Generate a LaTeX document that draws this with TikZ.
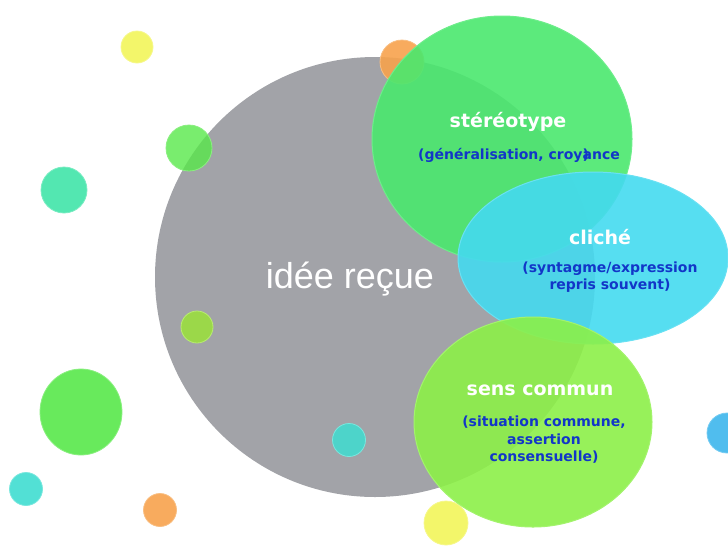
\documentclass[tikz,border=0pt]{standalone}
\usepackage{fontspec}
\setmainfont{DejaVu Sans}
\newfontfamily\thinfont{Liberation Sans}
\begin{document}
\begin{tikzpicture}[x=1pt,y=-1pt,
  ball/.style={fill=#1, draw=#1!70!white, line width=0.8pt, fill opacity=0.9},
  bigblob/.style={fill=#1, fill opacity=0.9, draw=#1!80!white, line width=1pt},
  title/.style={text=white, font=\bfseries\fontsize{19}{21}\selectfont},
  sub/.style={text=textblue, font=\bfseries\fontsize{14}{17.5}\selectfont, align=center}]
\useasboundingbox (0,0) rectangle (728,550);
\definecolor{grayc}{HTML}{A2A3A8}
\definecolor{stgreen}{HTML}{4AE86E}
\definecolor{clcyan}{HTML}{44DAF0}
\definecolor{sclime}{HTML}{8CF048}
\definecolor{byellow}{HTML}{F2F55A}
\definecolor{borange}{HTML}{F7A24C}
\definecolor{bgreen}{HTML}{58E84A}
\definecolor{bteal}{HTML}{40E4A8}
\definecolor{bteal2}{HTML}{3FDDD0}
\definecolor{blime}{HTML}{9AE632}
\definecolor{bblue}{HTML}{3DB6EC}
\definecolor{textblue}{HTML}{1236C8}
% background balls
\fill[ball=byellow] (137,47) circle (16);
\fill[ball=bteal] (64,190) circle (23);
\fill[ball=bgreen] (81,412) ellipse (41 and 43);
\fill[ball=bteal2] (26,489) circle (16.5);
\fill[ball=borange] (160,510) circle (16.5);
\fill[ball=byellow] (446,523) circle (22);
\fill[ball=bblue] (727,433) circle (20);
% big gray circle
\fill[grayc] (375,277) circle (220);
\node[text=white, font=\thinfont\fontsize{36}{38}\selectfont] (idee) at (350,279) {idée reçue};
% balls over gray
\fill[ball=bgreen, fill opacity=0.8] (189,148) circle (23);
\fill[ball=blime, fill opacity=0.8] (197,327) circle (16);
\fill[ball=bteal2, fill opacity=0.85] (349,440) circle (16.5);
\fill[ball=borange] (402,62) circle (22);
% concept blobs
\filldraw[bigblob=stgreen] (502,139) ellipse (130 and 123);
\filldraw[bigblob=clcyan] (593,258) ellipse (135 and 86);
\filldraw[bigblob=sclime] (533,422) ellipse (119 and 105);
% labels
\node[title] (stereo) at (508,122) {stéréotype};
\node[sub] (stereosub) at (519,155) {(généralisation, croy\rlap{)}ance};
\node[title] (cliche) at (600,237) {cliché};
\node[sub] (clichesub) at (610,277) {(syntagme/expression\\repris souvent)};
\node[title] (sens) at (540,390) {sens commun};
\node[sub] (senssub) at (544,440) {(situation commune,\\assertion\\consensuelle)};
\end{tikzpicture}
\end{document}
